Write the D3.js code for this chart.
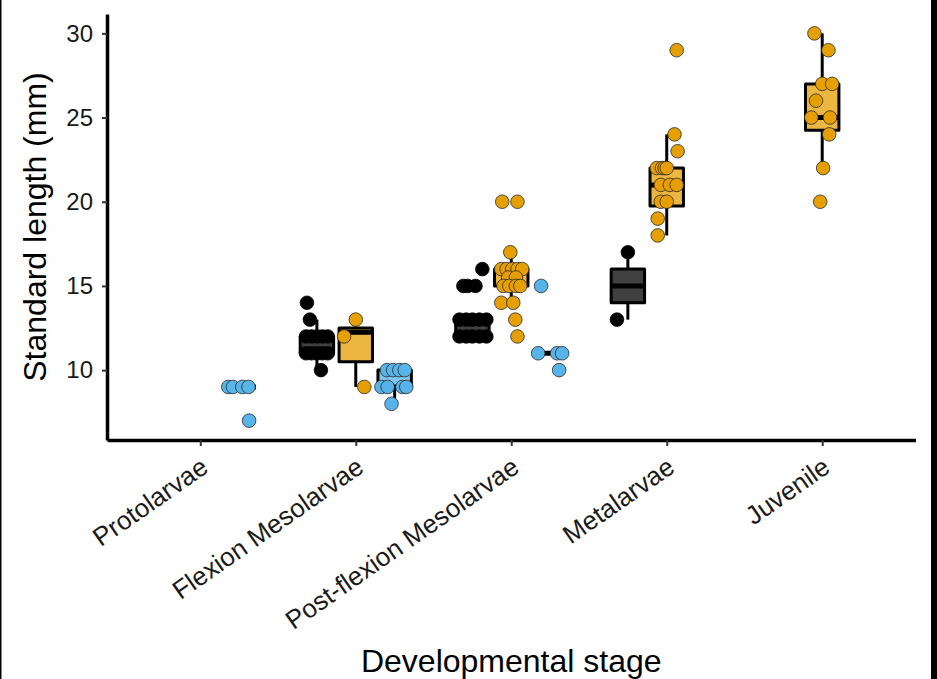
<!DOCTYPE html>
<html><head><meta charset="utf-8">
<script src="https://cdn.jsdelivr.net/npm/d3@7/dist/d3.min.js"></script>
<style>
body{margin:0;background:#fff}
svg{display:block}
text{font-family:"Liberation Sans", Arial, sans-serif}
</style>
</head><body>
<svg id="chart" width="937" height="679"></svg>
<script>
// ---------------- data ----------------
const stages = ["Protolarvae", "Flexion Mesolarvae", "Post-flexion Mesolarvae", "Metalarvae", "Juvenile"];
const groupColors = ["#000000", "#E69F00", "#56B4E9"];
const groupDodge = [-0.25, 0, 0.25];          // dodge slot of each group (category units)
const yTicks = [10, 15, 20, 25, 30];
const yTitle = "Standard length (mm)";
const xTitle = "Developmental stage";

// box statistics: [stage, group, lower whisker, q1, median, q3, upper whisker]
const boxStats = [
  [0, 2,  9,    9,    9,     9,    9],
  [1, 0, 10,   11,   12,    12,   13],
  [1, 1,  9,   10.5, 12.25, 12.5, 13],
  [1, 2,  8,    9,    9,    10,   10],
  [2, 0, 12,   12,   12,    13,   13],
  [2, 1, 14,   15,   16,    16,   17],
  [2, 2, 11,   11,   11,    11,   11],
  [3, 0, 13,   14,   15,    16,   17],
  [3, 1, 18,   19.75, 21,   22,   24],
  [4, 1, 22,   24.25, 25,   27,   30]
];

// individual fish: [stage, length (mm), horizontal jitter (category units)]
const darkPoints = [
  [1,14,-0.064],[1,13,-0.045],
  [1,12,-0.07],[1,12,-0.035],[1,12,0],[1,12,0.035],[1,12,0.07],
  [1,11,-0.07],[1,11,-0.035],[1,11,0],[1,11,0.035],[1,11,0.07],[1,10,0.026],
  [2,16,0.064],[2,15,-0.058],[2,15,-0.03],[2,15,0.02],
  [2,13,-0.083],[2,13,-0.04],[2,13,0],[2,13,0.045],[2,13,0.09],
  [2,12,-0.083],[2,12,-0.04],[2,12,0],[2,12,0.045],[2,12,0.09],
  [3,17,0],[3,13,-0.07]
];
const orangePoints = [
  [1,13,0],[1,12,-0.075],[1,9,0.055],
  [2,20,-0.058],[2,20,0.04],[2,17,-0.006],[2,16,-0.064],[2,16,-0.03],[2,16,0.006],[2,16,0.04],[2,16,0.07],
  [2,15.5,-0.02],[2,15.5,0.03],
  [2,15,-0.05],[2,15,-0.013],[2,15,0.03],[2,15,0.058],[2,14,-0.064],[2,14,0.013],[2,13,0.026],[2,12,0.04],
  [3,29,0.064],[3,24,0.05],[3,23,0.07],[3,22,-0.064],[3,22,-0.03],[3,22,-0.013],[3,22,0],
  [3,21,-0.038],[3,21,0.02],[3,21,0.064],
  [3,20,-0.038],[3,20,0],[3,19,-0.058],[3,18,-0.058],
  [4,30,-0.05],[4,29,0.04],[4,27,0],[4,27,0.064],[4,26,-0.04],[4,25,-0.07],[4,25,0.05],[4,24,0.045],[4,22,0.006],[4,20,-0.013]
];
const bluePoints = [
  [0,9,-0.07],[0,9,-0.04],[0,9,0.02],[0,9,0.06],[0,7,0.064],
  [1,10,-0.05],[1,10,-0.01],[1,10,0.03],[1,10,0.065],[1,9,-0.085],[1,9,-0.045],[1,9,0.05],[1,9,0.075],[1,8,-0.02],
  [2,15,-0.058],[2,11,-0.077],[2,11,0.045],[2,11,0.077],[2,10,0.058]
];
const pointSets = [darkPoints, orangePoints, bluePoints];

// ---------------- chart ----------------
const svg = d3.select("#chart");
const W = 937, H = 679;
svg.append("rect").attr("width", W).attr("height", H).attr("fill", "#fff");

const x = d3.scaleLinear().domain([0.4, stages.length + 0.6]).range([107, 915.5]);
const y = d3.scaleLinear().domain([5.85, 31.15]).range([440, 14]);
const boxWidth = 0.215;
const bw = x(boxWidth) - x(0);

// boxes
const gBox = svg.append("g");
boxStats.forEach(([s, g, lo, q1, med, q3, hi]) => {
  const cx = x(s + 1 + groupDodge[g]);
  const col = d3.color(groupColors[g]); col.opacity = 0.75;
  gBox.append("line").attr("x1", cx).attr("x2", cx).attr("y1", y(q3)).attr("y2", y(hi))
    .attr("stroke", "#000").attr("stroke-width", 3);
  gBox.append("line").attr("x1", cx).attr("x2", cx).attr("y1", y(q1)).attr("y2", y(lo))
    .attr("stroke", "#000").attr("stroke-width", 3);
  gBox.append("rect").attr("x", cx - bw / 2).attr("width", bw)
    .attr("y", y(q3)).attr("height", Math.max(0, y(q1) - y(q3)))
    .attr("fill", col.formatRgb()).attr("stroke", "#000").attr("stroke-width", 3)
    .attr("stroke-linejoin", "round");
  gBox.append("line").attr("x1", cx - bw / 2).attr("x2", cx + bw / 2).attr("y1", y(med)).attr("y2", y(med))
    .attr("stroke", "#000").attr("stroke-width", 5);
});

// points
const gPts = svg.append("g");
pointSets.forEach((pts, g) => {
  gPts.selectAll(null).data(pts).join("circle")
    .attr("cx", d => x(d[0] + 1 + groupDodge[g] + d[2]))
    .attr("cy", d => y(d[1]))
    .attr("r", 6.8)
    .attr("fill", groupColors[g])
    .attr("stroke", g === 0 ? "#000" : "#2a2a2a")
    .attr("stroke-width", 0.8);
});

// y axis
const yAxis = svg.append("g").attr("transform", "translate(107,0)")
  .call(d3.axisLeft(y).tickValues(yTicks).tickSize(5).tickSizeOuter(0).tickPadding(9));
yAxis.select(".domain").attr("stroke", "#000").attr("stroke-width", 3.5);
yAxis.selectAll(".tick line").attr("stroke", "#333").attr("stroke-width", 2);
yAxis.selectAll(".tick text").attr("font-size", 24).attr("fill", "#1a1a1a")
  .attr("font-family", "Liberation Sans, Arial, sans-serif");

// x axis
const xAxis = svg.append("g").attr("transform", "translate(0,440)")
  .call(d3.axisBottom(x).tickValues(d3.range(1, stages.length + 1)).tickSize(6).tickSizeOuter(0)
    .tickFormat(d => stages[d - 1]));
xAxis.select(".domain").attr("stroke", "#000").attr("stroke-width", 3.5);
xAxis.selectAll(".tick line").attr("stroke", "#333").attr("stroke-width", 2);
xAxis.selectAll(".tick text")
  .attr("font-size", 26).attr("fill", "#1a1a1a")
  .attr("font-family", "Liberation Sans, Arial, sans-serif")
  .attr("text-anchor", "end")
  .attr("x", 0).attr("y", 0).attr("dy", 0)
  .attr("transform", "translate(9,31) rotate(-35)");

// titles
svg.append("text").attr("x", (x.range()[0] + x.range()[1]) / 2).attr("y", 672)
  .attr("text-anchor", "middle").attr("font-size", 32).attr("fill", "#000").text(xTitle);
svg.append("text").attr("transform", `translate(46,${(y.range()[0] + y.range()[1]) / 2}) rotate(-90)`)
  .attr("text-anchor", "middle").attr("font-size", 32).attr("fill", "#000").text(yTitle);

// frame edges
svg.append("rect").attr("x", 0).attr("y", 0).attr("width", 1.5).attr("height", H).attr("fill", "#000");
svg.append("rect").attr("x", 931).attr("y", 0).attr("width", 6).attr("height", H).attr("fill", "#000");
</script>
</body></html>
